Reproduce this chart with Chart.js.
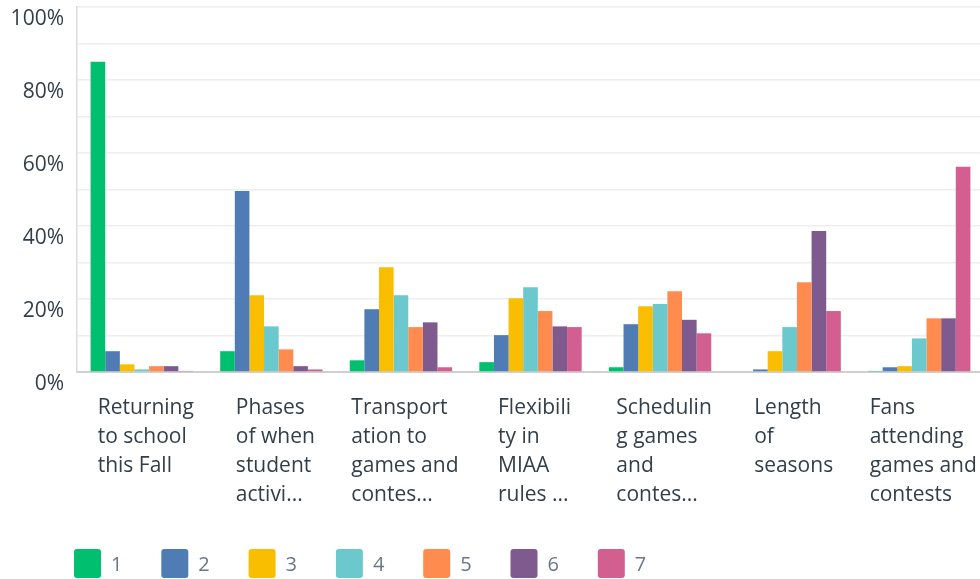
<!DOCTYPE html>
<html>
<head>
<meta charset="utf-8">
<title>Ratings chart</title>
<script src="https://cdn.jsdelivr.net/npm/chart.js@4.4.0/dist/chart.umd.min.js"></script>
<style>
  body { margin: 0; background: #fff; overflow: hidden; }
  #wrap { width: 980px; height: 579px; overflow: hidden; }
</style>
</head>
<body>
<div id="wrap"><canvas id="myChart" width="984" height="579"></canvas></div>
<script>
// categories, already wrapped the way the picture shows them
var categories = [
  ['Returning', 'to school', 'this Fall'],
  ['Phases', 'of when', 'student', 'activi...'],
  ['Transport', 'ation to', 'games and', 'contes...'],
  ['Flexibili', 'ty in', 'MIAA', 'rules ...'],
  ['Schedulin', 'g games', 'and', 'contes...'],
  ['Length', 'of', 'seasons'],
  ['Fans', 'attending', 'games and', 'contests']
];

var seriesNames = ['1', '2', '3', '4', '5', '6', '7'];
var seriesColors = ['#00bf6f', '#507cb6', '#f9be00', '#6bc8cd', '#ff8b4f', '#7f5a8f', '#d25f90'];

// percent of answers per rating
var rating1 = [85.0, 5.7, 3.2, 2.7, 1.3, 0, 0.3];
var rating2 = [5.7, 49.6, 17.2, 10.1, 13.1, 0.7, 1.3];
var rating3 = [2.1, 21.0, 28.7, 20.2, 18.0, 5.7, 1.6];
var rating4 = [0.7, 12.5, 21.0, 23.2, 18.6, 12.3, 9.2];
var rating5 = [1.6, 6.2, 12.3, 16.7, 22.1, 24.6, 14.7];
var rating6 = [1.6, 1.6, 13.6, 12.5, 14.3, 38.6, 14.7];
var rating7 = [0.3, 0.7, 1.3, 12.3, 10.6, 16.7, 56.2];

var yTicks = [0, 20, 40, 60, 80, 100];

var allSeries = [rating1, rating2, rating3, rating4, rating5, rating6, rating7];
var textColor = '#333e48';
var fontName = "'Open Sans', 'Noto Sans', sans-serif";

var datasets = allSeries.map(function (vals, i) {
  return {
    label: seriesNames[i],
    data: vals,
    backgroundColor: seriesColors[i],
    borderWidth: 0,
    categoryPercentage: 0.79,
    barPercentage: 1.0
  };
});

// x labels: left aligned lines inside a block centred on the category
var leftLabels = {
  id: 'leftLabels',
  afterDraw: function (chart) {
    var ctx = chart.ctx;
    var xs = chart.scales.x;
    ctx.save();
    ctx.font = '21px ' + fontName;
    ctx.fillStyle = textColor;
    ctx.textAlign = 'left';
    ctx.textBaseline = 'middle';
    categories.forEach(function (lines, i) {
      var w = 0;
      lines.forEach(function (l) { w = Math.max(w, ctx.measureText(l).width); });
      var x0 = xs.getPixelForTick(i) - w / 2 + 4;
      lines.forEach(function (l, k) {
        ctx.fillText(l, x0, xs.top + 36 + k * 29);
      });
    });
    ctx.restore();
  }
};

// legend along the bottom with rounded swatches
var swatchLegend = {
  id: 'swatchLegend',
  afterDraw: function (chart) {
    var ctx = chart.ctx;
    ctx.save();
    ctx.font = '20px ' + fontName;
    ctx.textBaseline = 'middle';
    ctx.textAlign = 'left';
    chart.data.datasets.forEach(function (ds, i) {
      var x = 74 + i * 87.3;
      ctx.fillStyle = ds.backgroundColor;
      ctx.beginPath();
      ctx.roundRect(x, 549, 27, 29, 3);
      ctx.fill();
      ctx.fillStyle = '#6b7785';
      ctx.fillText(ds.label, x + 37, 565);
    });
    ctx.restore();
  }
};

const ctx = document.getElementById('myChart');
new Chart(ctx, {
  type: 'bar',
  data: {
    labels: categories,
    datasets: datasets
  },
  options: {
    responsive: false,
    animation: false,
    layout: { padding: { top: 7, right: 0, bottom: 0, left: 0 } },
    plugins: {
      legend: { display: false },
      tooltip: { enabled: false }
    },
    scales: {
      x: {
        grid: { display: false },
        border: { display: true, color: '#cfcfcf', width: 2 },
        ticks: {
          color: 'rgba(0,0,0,0)',
          autoSkip: false,
          maxRotation: 0,
          minRotation: 0,
          font: { size: 19, family: fontName }
        },
        afterFit: function (scale) {
          scale.height = 207;
          scale.paddingLeft = 0;
          scale.paddingRight = 0;
        }
      },
      y: {
        min: 0,
        max: 100,
        grid: { color: '#eeeeee', lineWidth: 1.5, drawTicks: false },
        border: { display: true, color: '#dcdcdc', width: 1.5 },
        ticks: {
          stepSize: 10,
          padding: 13,
          labelOffset: 12,
          color: textColor,
          font: { size: 21, family: fontName },
          callback: function (v) {
            return yTicks.indexOf(v) >= 0 ? v + '%' : '';
          }
        },
        afterFit: function (scale) {
          scale.width = 77;
          scale.paddingTop = 0;
          scale.paddingBottom = 0;
        }
      }
    }
  },
  plugins: [leftLabels, swatchLegend]
});
</script>
</body>
</html>
